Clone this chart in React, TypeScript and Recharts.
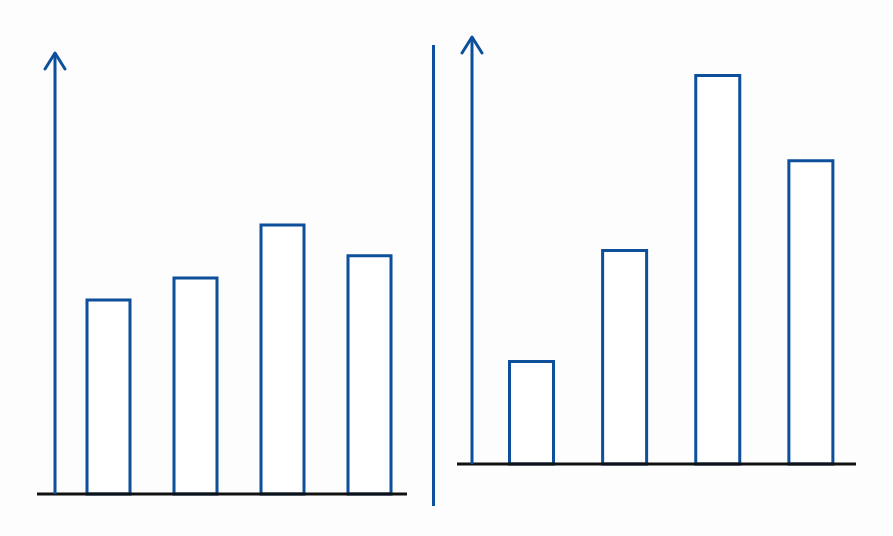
import { Bar, BarChart, ReferenceLine, XAxis, YAxis } from 'recharts';

// Categories shared by both panels
const categories = ['A', 'B', 'C', 'D'];

// Bar heights, on a 0-100 scale per panel
const leftValues = [44, 49, 61, 54];
const rightValues = [24, 50, 91, 71];

const yDomain = [0, 100];

const BLUE = '#0d4f9a';
const BLACK = '#111111';

const toData = (values: number[]) =>
  categories.map((name, i) => ({ name, value: values[i] }));

// Arrow head drawn at the top end of the y axis line
const ArrowLabel = (props: any) => {
  const vb = props.viewBox || {};
  const tipX = vb.x + vb.width;
  const tipY = vb.y;
  return (
    <path
      d={`M${tipX - 10},${tipY + 16} L${tipX},${tipY} L${tipX + 10},${tipY + 16}`}
      fill="none"
      stroke={BLUE}
      strokeWidth={3}
      strokeLinecap="round"
      strokeLinejoin="round"
    />
  );
};

// Black baseline that sticks out a little past the y axis
const baseline = (extendLeft: number, trimRight: number) => (props: any) => (
  <line
    x1={props.x1 - extendLeft}
    y1={props.y1}
    x2={props.x2 - trimRight}
    y2={props.y2}
    stroke={BLACK}
    strokeWidth={3}
  />
);

interface PanelProps {
  values: number[];
  width: number;
  margin: { top: number; right: number; bottom: number; left: number };
  axisWidth: number;
  padLeft: number;
  barSize: number;
  extendLeft: number;
  trimRight: number;
}

function Panel({ values, width, margin, axisWidth, padLeft, barSize, extendLeft, trimRight }: PanelProps) {
  return (
    <BarChart width={width} height={536} data={toData(values)} margin={margin}>
      <XAxis dataKey="name" hide padding={{ left: padLeft, right: 0 }} />
      <YAxis
        width={axisWidth}
        domain={yDomain}
        tick={false}
        tickLine={false}
        axisLine={{ stroke: BLUE, strokeWidth: 3 }}
        label={{ content: ArrowLabel }}
      />
      <ReferenceLine y={0} shape={baseline(extendLeft, trimRight)} />
      <Bar
        dataKey="value"
        barSize={barSize}
        fill="#ffffff"
        stroke={BLUE}
        strokeWidth={3}
        isAnimationActive={false}
      />
    </BarChart>
  );
}

export default function App() {
  return (
    <div
      style={{
        position: 'absolute',
        left: 0,
        top: 0,
        width: 893,
        height: 536,
        background: '#fdfdfd',
        overflow: 'hidden',
      }}
    >
      <div style={{ position: 'absolute', left: 0, top: 0 }}>
        <Panel
          values={leftValues}
          width={433}
          margin={{ top: 53, right: 20, bottom: 42, left: 0 }}
          axisWidth={55}
          padLeft={10}
          barSize={43}
          extendLeft={18}
          trimRight={6}
        />
      </div>

      {/* divider between the two panels */}
      <div
        style={{
          position: 'absolute',
          left: 432,
          top: 45,
          width: 3,
          height: 461,
          background: BLUE,
        }}
      />

      <div style={{ position: 'absolute', left: 433, top: 0 }}>
        <Panel
          values={rightValues}
          width={460}
          margin={{ top: 37, right: 36, bottom: 72, left: 0 }}
          axisWidth={39}
          padLeft={12.5}
          barSize={44}
          extendLeft={15}
          trimRight={1}
        />
      </div>
    </div>
  );
}
